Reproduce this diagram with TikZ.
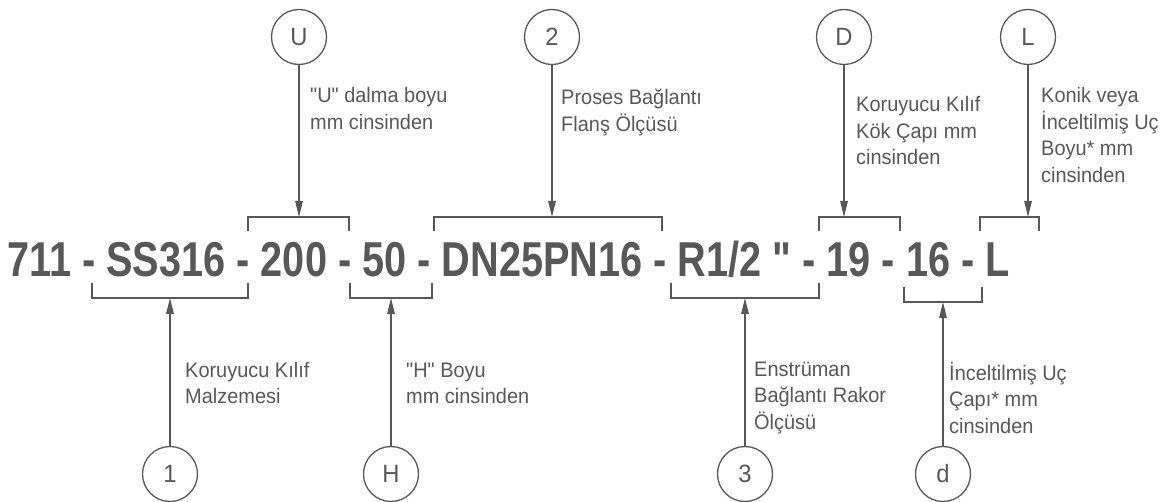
\documentclass[tikz,border=0pt]{standalone}
\usepackage{fontspec}
\setmainfont{Liberation Sans}
\newfontfamily\codefont{Liberation Sans}[FakeStretch=0.81]
\newfontfamily\lblfont{Liberation Sans}[FakeStretch=0.95]
\usetikzlibrary{arrows.meta}
\definecolor{ink}{HTML}{585858}
\tikzset{
  bracket/.style={draw=ink, line width=1.3pt},
  tag/.style={circle, draw=ink, line width=1.3pt, minimum size=55pt, inner sep=0pt,
    text=ink, font=\lblfont\fontsize{25}{25}\selectfont},
  note/.style={anchor=base west, inner sep=0pt, align=left, text=ink,
    font=\lblfont\fontsize{21}{26.5}\selectfont},
  pointer/.style={-{Triangle[length=16pt,width=7.5pt]}, draw=ink, line width=1.3pt},
  code/.style={anchor=base west, inner sep=0pt, text=ink,
    font=\codefont\bfseries\fontsize{49}{49}\selectfont}
}
\begin{document}
\begin{tikzpicture}[x=1pt,y=-1pt]
\path[use as bounding box] (0,0) rectangle (1164,502);

% main code
\node[code] (code) at (7,277) {711 - SS316 - 200 - 50 - DN25PN16 - R1/2 " - 19 - 16 - L};

% top brackets
\draw[bracket] (248,231) -- (248,217) -- (349,217) -- (349,231);
\draw[bracket] (434,231) -- (434,217) -- (662,217) -- (662,231);
\draw[bracket] (819,231) -- (819,217) -- (900,217) -- (900,231);
\draw[bracket] (980,231) -- (980,217) -- (1039,217) -- (1039,231);
\coordinate (tU) at (299,217);
\coordinate (t2) at (552,217);
\coordinate (tD) at (844,217);
\coordinate (tL) at (1028,217);

% bottom brackets
\draw[bracket] (92,283) -- (92,298) -- (248,298) -- (248,283);
\draw[bracket] (350,283) -- (350,298) -- (432,298) -- (432,283);
\draw[bracket] (671,283) -- (671,298) -- (819,298) -- (819,283);
\draw[bracket] (904,287) -- (904,302) -- (982,302) -- (982,287);
\coordinate (b1) at (170,298);
\coordinate (bH) at (391,298);
\coordinate (b3) at (745,298);
\coordinate (bd) at (943,302);

% top tags
\node[tag] (U) at (299,37) {U};
\node[tag] (n2) at (552,37) {2};
\node[tag] (D) at (844,37) {D};
\node[tag] (L) at (1028,37) {L};
\draw[pointer] (U) -- (tU);
\draw[pointer] (n2) -- (t2);
\draw[pointer] (D) -- (tD);
\draw[pointer] (L) -- (tL);

% bottom tags
\node[tag] (n1) at (170,474) {1};
\node[tag] (H) at (391,474) {H};
\node[tag] (n3) at (745,474) {3};
\node[tag] (d) at (943,474) {d};
\draw[pointer] (n1) -- (b1);
\draw[pointer] (H) -- (bH);
\draw[pointer] (n3) -- (b3);
\draw[pointer] (d) -- (bd);

% notes (anchor = baseline of the last line)
\node[note] (xU) at (310,129.5) {"U" dalma boyu\\mm cinsinden};
\node[note] (x2) at (561,131.5) {Proses Bağlantı\\Flanş Ölçüsü};
\node[note] (xD) at (856,165) {Koruyucu Kılıf\\Kök Çapı mm\\cinsinden};
\node[note] (xL) at (1041,182.5) {Konik veya\\İnceltilmiş Uç\\Boyu* mm\\cinsinden};
\node[note] (x1) at (185,403.5) {Koruyucu Kılıf\\Malzemesi};
\node[note] (xH) at (406,403.5) {"H" Boyu\\mm cinsinden};
\node[note] (x3) at (754,429) {Enstrüman\\Bağlantı Rakor\\Ölçüsü};
\node[note] (xd) at (949,433) {İnceltilmiş Uç\\Çapı* mm\\cinsinden};
\end{tikzpicture}
\end{document}
